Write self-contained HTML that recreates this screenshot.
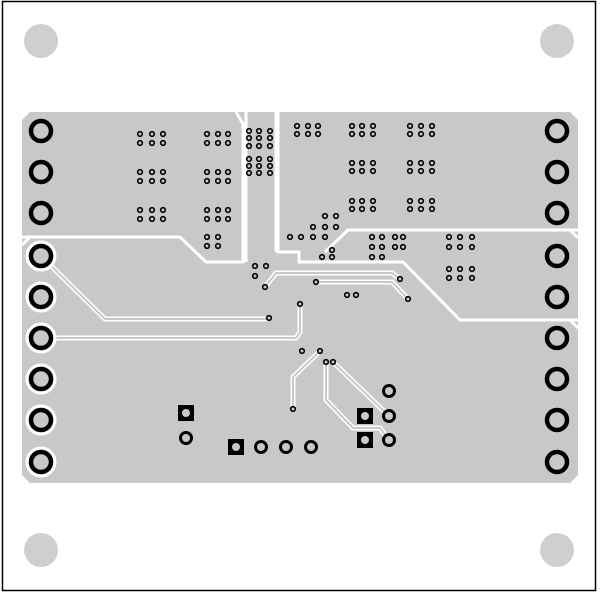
<!DOCTYPE html>
<html><head><style>body{margin:0;background:#fff}svg{display:block}</style></head><body>
<svg width="600" height="600" viewBox="0 0 600 600" xmlns="http://www.w3.org/2000/svg">
<rect x="2.5" y="1.5" width="593" height="589" fill="#fff" stroke="#000" stroke-width="1.5"/>
<g fill="#cfcfcf"><circle cx="41" cy="41" r="17"/><circle cx="557" cy="41" r="17"/><circle cx="41" cy="550" r="17"/><circle cx="557" cy="550" r="17"/></g>
<polygon points="30,112 570,112 578,120 578,475 570,483 30,483 22,475 22,120" fill="#c8c8c8"/>
<g fill="none" stroke="#fff" stroke-width="3">
<polyline points="20,237 180,237 206,262 243,262 243,124 236,112"/>
<polyline points="246,110 246,262"/>
<polyline points="276,110 276,252"/>
<polyline points="278,110 278,252 299,252 299,262 403,262 460,320 580,320"/>
<polyline points="580,230 348,230 325,252"/>
<polyline points="22,245 30,237"/><polyline points="570,230 578,238"/><polyline points="570,320 578,328"/>
</g>
<g fill="none" stroke="#fff" stroke-width="5">
<polyline points="41,256 105,319 269,319"/>
<polyline points="41,338 296,338 300,332 300,304"/>
<polyline points="265,287 276,273 392,273 400,279"/>
<polyline points="316,282 392,282 408,299"/>
<polyline points="320,351 293,377 293,409"/>
<polyline points="326,362 326,400 353,428 380,428 389,440"/>
<polyline points="333,362 389,416"/>
</g>
<g fill="none" stroke="#c8c8c8" stroke-width="2">
<polyline points="41,256 105,319 269,319"/>
<polyline points="41,338 296,338 300,332 300,304"/>
<polyline points="265,287 276,273 392,273 400,279"/>
<polyline points="316,282 392,282 408,299"/>
<polyline points="320,351 293,377 293,409"/>
<polyline points="326,362 326,400 353,428 380,428 389,440"/>
<polyline points="333,362 389,416"/>
</g>
<g fill="#c8c8c8" stroke="#fff" stroke-width="3">
<circle cx="41" cy="256" r="14"/><circle cx="41" cy="297" r="14"/><circle cx="41" cy="338" r="14"/><circle cx="41" cy="379" r="14"/><circle cx="41" cy="420" r="14"/><circle cx="41" cy="462" r="14"/>
</g>
<g fill="#c8c8c8" stroke="#000" stroke-width="4.5">
<circle cx="41" cy="131" r="10"/><circle cx="41" cy="172" r="10"/><circle cx="41" cy="213" r="10"/>
<circle cx="41" cy="256" r="10"/><circle cx="41" cy="297" r="10"/><circle cx="41" cy="338" r="10"/><circle cx="41" cy="379" r="10"/><circle cx="41" cy="420" r="10"/><circle cx="41" cy="462" r="10"/>
<circle cx="557" cy="131" r="10"/><circle cx="557" cy="172" r="10"/><circle cx="557" cy="213" r="10"/>
<circle cx="557" cy="256" r="10"/><circle cx="557" cy="297" r="10"/><circle cx="557" cy="338" r="10"/><circle cx="557" cy="379" r="10"/><circle cx="557" cy="420" r="10"/><circle cx="557" cy="462" r="10"/>
</g>
<g fill="#c8c8c8" stroke="#000" stroke-width="3" >
<circle cx="186" cy="438" r="5.5"/><circle cx="261" cy="447" r="5.5"/><circle cx="286" cy="447" r="5.5"/><circle cx="311" cy="447" r="5.5"/>
<circle cx="389" cy="391" r="5.5"/><circle cx="389" cy="416" r="5.5"/><circle cx="389" cy="440" r="5.5"/>
</g>
<g fill="#000"><rect x="178" y="405" width="16" height="16"/><rect x="228" y="439" width="16" height="16"/><rect x="357" y="408" width="16" height="16"/><rect x="357" y="432" width="16" height="16"/></g>
<g fill="#c8c8c8"><circle cx="186" cy="413" r="4"/><circle cx="236" cy="447" r="4"/><circle cx="365" cy="416" r="4"/><circle cx="365" cy="440" r="4"/></g>
<g fill="#c8c8c8" stroke="#000" stroke-width="1.6">
<circle cx="140" cy="134" r="2.3"/><circle cx="152" cy="134" r="2.3"/><circle cx="163" cy="134" r="2.3"/><circle cx="140" cy="143" r="2.3"/><circle cx="152" cy="143" r="2.3"/><circle cx="163" cy="143" r="2.3"/>
<circle cx="207" cy="134" r="2.3"/><circle cx="218" cy="134" r="2.3"/><circle cx="228" cy="134" r="2.3"/><circle cx="207" cy="143" r="2.3"/><circle cx="218" cy="143" r="2.3"/><circle cx="228" cy="143" r="2.3"/>
<circle cx="140" cy="172" r="2.3"/><circle cx="152" cy="172" r="2.3"/><circle cx="163" cy="172" r="2.3"/><circle cx="140" cy="181" r="2.3"/><circle cx="152" cy="181" r="2.3"/><circle cx="163" cy="181" r="2.3"/>
<circle cx="207" cy="172" r="2.3"/><circle cx="218" cy="172" r="2.3"/><circle cx="228" cy="172" r="2.3"/><circle cx="207" cy="181" r="2.3"/><circle cx="218" cy="181" r="2.3"/><circle cx="228" cy="181" r="2.3"/>
<circle cx="140" cy="210" r="2.3"/><circle cx="152" cy="210" r="2.3"/><circle cx="163" cy="210" r="2.3"/><circle cx="140" cy="219" r="2.3"/><circle cx="152" cy="219" r="2.3"/><circle cx="163" cy="219" r="2.3"/>
<circle cx="207" cy="210" r="2.3"/><circle cx="218" cy="210" r="2.3"/><circle cx="228" cy="210" r="2.3"/><circle cx="207" cy="219" r="2.3"/><circle cx="218" cy="219" r="2.3"/><circle cx="228" cy="219" r="2.3"/>
<circle cx="207" cy="237" r="2.3"/><circle cx="218" cy="237" r="2.3"/><circle cx="207" cy="246" r="2.3"/><circle cx="218" cy="246" r="2.3"/>
<circle cx="249" cy="131" r="2.3"/><circle cx="259" cy="131" r="2.3"/><circle cx="270" cy="131" r="2.3"/>
<circle cx="249" cy="138" r="2.3"/><circle cx="259" cy="138" r="2.3"/><circle cx="270" cy="138" r="2.3"/>
<circle cx="249" cy="146" r="2.3"/><circle cx="259" cy="146" r="2.3"/><circle cx="270" cy="146" r="2.3"/>
<circle cx="249" cy="159" r="2.3"/><circle cx="259" cy="159" r="2.3"/><circle cx="270" cy="159" r="2.3"/>
<circle cx="249" cy="166" r="2.3"/><circle cx="259" cy="166" r="2.3"/><circle cx="270" cy="166" r="2.3"/>
<circle cx="249" cy="173" r="2.3"/><circle cx="259" cy="173" r="2.3"/><circle cx="270" cy="173" r="2.3"/>
<circle cx="297" cy="126" r="2.3"/><circle cx="308" cy="126" r="2.3"/><circle cx="318" cy="126" r="2.3"/><circle cx="297" cy="134" r="2.3"/><circle cx="308" cy="134" r="2.3"/><circle cx="318" cy="134" r="2.3"/>
<circle cx="352" cy="126" r="2.3"/><circle cx="362" cy="126" r="2.3"/><circle cx="373" cy="126" r="2.3"/><circle cx="352" cy="134" r="2.3"/><circle cx="362" cy="134" r="2.3"/><circle cx="373" cy="134" r="2.3"/>
<circle cx="410" cy="126" r="2.3"/><circle cx="421" cy="126" r="2.3"/><circle cx="432" cy="126" r="2.3"/><circle cx="410" cy="134" r="2.3"/><circle cx="421" cy="134" r="2.3"/><circle cx="432" cy="134" r="2.3"/>
<circle cx="352" cy="163" r="2.3"/><circle cx="362" cy="163" r="2.3"/><circle cx="373" cy="163" r="2.3"/><circle cx="352" cy="171" r="2.3"/><circle cx="362" cy="171" r="2.3"/><circle cx="373" cy="171" r="2.3"/>
<circle cx="410" cy="163" r="2.3"/><circle cx="421" cy="163" r="2.3"/><circle cx="432" cy="163" r="2.3"/><circle cx="410" cy="171" r="2.3"/><circle cx="421" cy="171" r="2.3"/><circle cx="432" cy="171" r="2.3"/>
<circle cx="352" cy="201" r="2.3"/><circle cx="362" cy="201" r="2.3"/><circle cx="373" cy="201" r="2.3"/><circle cx="352" cy="209" r="2.3"/><circle cx="362" cy="209" r="2.3"/><circle cx="373" cy="209" r="2.3"/>
<circle cx="410" cy="201" r="2.3"/><circle cx="421" cy="201" r="2.3"/><circle cx="432" cy="201" r="2.3"/><circle cx="410" cy="209" r="2.3"/><circle cx="421" cy="209" r="2.3"/><circle cx="432" cy="209" r="2.3"/>
<circle cx="325" cy="216" r="2.3"/><circle cx="336" cy="216" r="2.3"/>
<circle cx="313" cy="227" r="2.3"/><circle cx="325" cy="227" r="2.3"/><circle cx="336" cy="227" r="2.3"/>
<circle cx="290" cy="237" r="2.3"/><circle cx="301" cy="237" r="2.3"/><circle cx="313" cy="237" r="2.3"/><circle cx="325" cy="237" r="2.3"/>
<circle cx="332" cy="250" r="2.3"/><circle cx="322" cy="257" r="2.3"/><circle cx="332" cy="257" r="2.3"/>
<circle cx="372" cy="237" r="2.3"/><circle cx="382" cy="237" r="2.3"/><circle cx="395" cy="237" r="2.3"/><circle cx="403" cy="237" r="2.3"/>
<circle cx="372" cy="247" r="2.3"/><circle cx="382" cy="247" r="2.3"/><circle cx="395" cy="247" r="2.3"/><circle cx="403" cy="247" r="2.3"/>
<circle cx="372" cy="257" r="2.3"/><circle cx="382" cy="257" r="2.3"/>
<circle cx="449" cy="237" r="2.3"/><circle cx="460" cy="237" r="2.3"/><circle cx="472" cy="237" r="2.3"/><circle cx="449" cy="247" r="2.3"/><circle cx="460" cy="247" r="2.3"/><circle cx="472" cy="247" r="2.3"/>
<circle cx="449" cy="269" r="2.3"/><circle cx="460" cy="269" r="2.3"/><circle cx="472" cy="269" r="2.3"/><circle cx="449" cy="278" r="2.3"/><circle cx="460" cy="278" r="2.3"/><circle cx="472" cy="278" r="2.3"/>
<circle cx="255" cy="266" r="2.3"/><circle cx="266" cy="266" r="2.3"/><circle cx="255" cy="276" r="2.3"/>
<circle cx="265" cy="287" r="2.3"/><circle cx="316" cy="282" r="2.3"/><circle cx="400" cy="279" r="2.3"/><circle cx="408" cy="299" r="2.3"/>
<circle cx="347" cy="295" r="2.3"/><circle cx="356" cy="295" r="2.3"/><circle cx="300" cy="304" r="2.3"/><circle cx="269" cy="318" r="2.3"/>
<circle cx="302" cy="351" r="2.3"/><circle cx="320" cy="351" r="2.3"/><circle cx="326" cy="362" r="2.3"/><circle cx="333" cy="362" r="2.3"/><circle cx="293" cy="409" r="2.3"/>
</g>
</svg>
</body></html>
